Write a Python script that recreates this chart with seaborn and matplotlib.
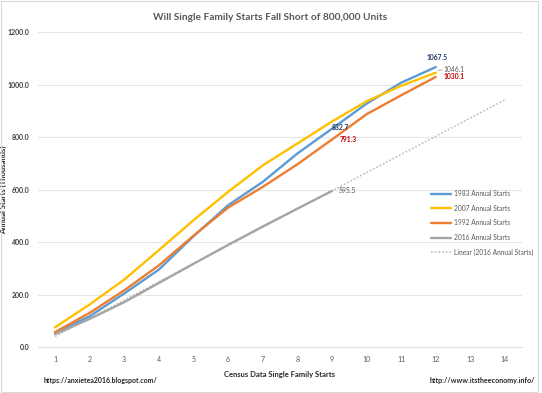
import matplotlib
matplotlib.use('Agg')
import matplotlib.pyplot as plt
import numpy as np
import pandas as pd
import seaborn as sns
from matplotlib.patches import Rectangle

# Census data, cumulative single family starts (thousands) by month
months = list(range(1, 13))
starts_1983 = [55, 118, 205, 296, 423, 541, 630, 738, 832.7, 928, 1008, 1067.5]
starts_2007 = [76, 163, 258, 370, 484, 592, 693, 776, 860, 937, 996, 1046.1]
starts_1992 = [58, 131, 217, 312, 425, 532, 611, 697, 791.3, 888, 960, 1030.1]
months_2016 = list(range(1, 10))
starts_2016 = [50, 108, 172, 245, 318, 390, 460, 528, 595.5]
x_ticks = list(range(1, 15))
y_ticks = [0, 200, 400, 600, 800, 1000, 1200]

series_names = ['1983 Annual Starts', '2007 Annual Starts', '1992 Annual Starts', '2016 Annual Starts']
series_colors = ['#5B9BD5', '#FFC000', '#ED7D31', '#A5A5A5']

if __name__ == '__main__':
    frames = []
    for name, xs, ys in zip(series_names,
                            [months, months, months, months_2016],
                            [starts_1983, starts_2007, starts_1992, starts_2016]):
        frames.append(pd.DataFrame({'month': xs, 'starts': ys, 'series': name}))
    data = pd.concat(frames, ignore_index=True)

    sns.set_style('white')
    plt.rcParams['font.family'] = ['Lato', 'DejaVu Sans']

    W, H = 542, 393
    fig = plt.figure(figsize=(5.42, 3.93), dpi=100)
    ax = fig.add_axes([37.7 / W, 1 - 347.3 / H, (522.3 - 37.7) / W, (347.3 - 32.3) / H])

    sns.lineplot(data=data, x='month', y='starts', hue='series', hue_order=series_names,
                 palette=dict(zip(series_names, series_colors)), linewidth=1.7, ax=ax)

    # Excel style linear trendline for 2016
    coef = np.polyfit(months_2016, starts_2016, 1)
    trend_x = np.array([1, 14])
    ax.plot(trend_x, np.polyval(coef, trend_x), color='#BFBFBF', linestyle=(0, (1.2, 1.2)),
            linewidth=1.1, label='Linear (2016 Annual Starts)', zorder=1)

    ax.set_xlim(0.5, 14.5)
    ax.set_ylim(0, 1200)
    ax.set_xticks(x_ticks)
    ax.set_xticklabels([str(t) for t in x_ticks], fontsize=5.1, color='#595959')
    ax.set_yticks(y_ticks)
    ax.set_yticklabels([f'{t:.1f}' for t in y_ticks], fontsize=5.0, color='#404040', fontweight='bold')
    ax.tick_params(axis='both', length=0, pad=6)
    ax.yaxis.grid(True, color='#E6E6E6', linewidth=0.8)
    for side in ['top', 'right', 'left']:
        ax.spines[side].set_visible(False)
    ax.spines['bottom'].set_color('#E0E0E0')
    ax.spines['bottom'].set_linewidth(0.8)

    ax.set_xlabel('Census Data Single Family Starts', fontsize=5.5, fontweight='bold', color='#262626')
    ax.set_ylabel('Annual Starts (Thousands)', fontsize=5.5, fontweight='bold', color='#262626')
    ax.xaxis.set_label_coords(0.5, -0.075)
    ax.yaxis.set_label_coords((7 - 37.7) / (522.3 - 37.7), 0.5)

    # data labels
    navy = '#1F3864'
    red = '#C00000'
    lab = dict(textcoords='offset pixels', fontsize=4.9, va='center')
    ax.annotate(f'{starts_1983[-1]:.1f}', (12, starts_1983[-1]), xytext=(1, 10),
                ha='center', fontweight='bold', color=navy, **lab)
    ax.annotate(f'{starts_2007[-1]:.1f}', (12, starts_2007[-1]), xytext=(8, 3),
                ha='left', color='#595959', **lab)
    ax.plot([12.06, 12.2], [starts_2007[-1] + 8, starts_2007[-1] + 11], color='#A5A5A5', linewidth=0.6)
    ax.annotate(f'{starts_1992[-1]:.1f}', (12, starts_1992[-1]), xytext=(8, 0),
                ha='left', fontweight='bold', color=red, **lab)
    ax.annotate(f'{starts_1983[8]:.1f}', (9, starts_1983[8]), xytext=(0, 1),
                ha='left', fontweight='bold', color=navy, **lab)
    ax.annotate(f'{starts_1992[8]:.1f}', (9, starts_1992[8]), xytext=(8, 0),
                ha='left', fontweight='bold', color=red, **lab)
    ax.annotate(f'{starts_2016[-1]:.1f}', (9, starts_2016[-1]), xytext=(7, 0),
                ha='left', color='#595959', **lab)

    handles, labels = ax.get_legend_handles_labels()
    ax.get_legend().remove()
    leg = fig.legend(handles, labels, loc='upper left', bbox_to_anchor=(431 / W, 1 - 190 / H),
                     frameon=False, fontsize=4.8, handlelength=3.0, handletextpad=0.4,
                     labelspacing=1.15, borderpad=0, borderaxespad=0)
    for text in leg.get_texts():
        text.set_color('#595959')

    fig.text(270 / W, 1 - 17 / H, 'Will Single Family Starts Fall Short of 800,000 Units',
             ha='center', va='center', fontsize=7.3, fontweight='bold', color='#595959')
    fig.text(44 / W, 1 - 380 / H, 'https://anxietea2016.blogspot.com/', ha='left', va='center',
             fontsize=5.0, fontweight='bold', color='#262626')
    fig.text(535 / W, 1 - 381 / H, 'http://www.itstheeconomy.info/', ha='right', va='center',
             fontsize=5.1, fontweight='bold', color='#262626')
    fig.patches.append(Rectangle((0.002, 0.002), 0.99, 0.995, transform=fig.transFigure,
                                 fill=False, edgecolor='#D9D9D9', linewidth=0.8))

    fig.savefig('out.png', dpi=100)
